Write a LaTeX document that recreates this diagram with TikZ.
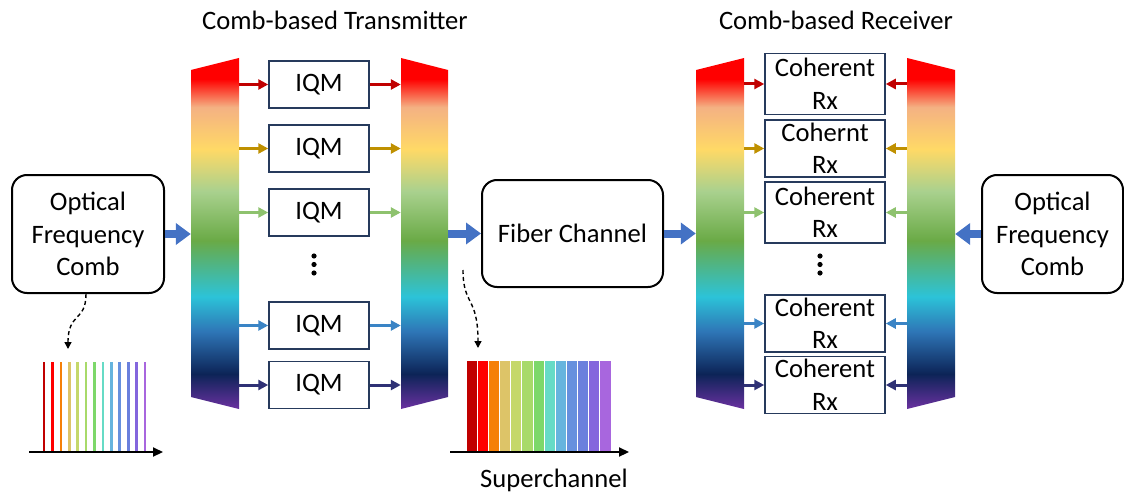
\documentclass[tikz,border=0pt]{standalone}
\usepackage{fontspec}
\setmainfont{Carlito}
\usetikzlibrary{arrows.meta}
\definecolor{cred}{HTML}{FF0000}
\definecolor{csalmon}{HTML}{F4B183}
\definecolor{cyellow}{HTML}{FFD966}
\definecolor{clgreen}{HTML}{A9D18E}
\definecolor{cgreen}{HTML}{6AAA46}
\definecolor{ccyan}{HTML}{2CC3D8}
\definecolor{cblue}{HTML}{2E75B6}
\definecolor{cnavy}{HTML}{0C2457}
\definecolor{cpurple}{HTML}{6A31A0}
\definecolor{aRed}{HTML}{C00000}
\definecolor{aGold}{HTML}{BF9000}
\definecolor{aLGreen}{HTML}{8EC26E}
\definecolor{aBlue}{HTML}{3A84C5}
\definecolor{aNavy}{HTML}{2F3175}
\definecolor{bigblue}{HTML}{4472C4}
\definecolor{boxline}{HTML}{263A5C}
\definecolor{s1}{HTML}{C00000}
\definecolor{s2}{HTML}{FF0000}
\definecolor{s3}{HTML}{F58008}
\definecolor{s4}{HTML}{DDC468}
\definecolor{s5}{HTML}{C5D86A}
\definecolor{s6}{HTML}{A8DA6A}
\definecolor{s7}{HTML}{7DD86A}
\definecolor{s8}{HTML}{66DBC6}
\definecolor{s9}{HTML}{66B4DE}
\definecolor{s10}{HTML}{6690DE}
\definecolor{s11}{HTML}{6B80DD}
\definecolor{s12}{HTML}{8466DD}
\definecolor{s13}{HTML}{A866DE}
\pgfdeclareverticalshading{rainbowfill}{100bp}{color(0bp)=(cpurple); color(25bp)=(cpurple); color(30bp)=(cnavy); color(36bp)=(cblue); color(41bp)=(ccyan); color(49bp)=(cgreen); color(56bp)=(clgreen); color(62bp)=(cyellow); color(68bp)=(csalmon); color(72bp)=(cred); color(100bp)=(cred)}
\tikzset{
  every node/.style={font=\fontsize{26.6}{32.5}\selectfont},
  roundbox/.style={draw=black, line width=2pt, rounded corners=15pt, align=center, inner sep=0pt},
  iqmbox/.style={draw=boxline, line width=1.5pt, minimum width=100pt, minimum height=47pt, inner sep=0pt},
  rxbox/.style={draw=boxline, line width=1.5pt, minimum width=120pt, minimum height=59pt, inner sep=0pt, align=center},
  trapnode/.style={draw=none, minimum width=48pt, minimum height=351pt, inner sep=0pt},
  sarrow/.style={draw=#1, line width=3pt, -{Triangle[length=10pt,width=10pt]}},
  barrow/.style={draw=bigblue, line width=8pt, -{Triangle[length=15pt,width=21pt]}},
  dasharrow/.style={draw=black, line width=1.4pt, dashed, dash pattern=on 4pt off 3pt, -{Triangle[length=7pt,width=7pt]}},
  axisarrow/.style={draw=black, line width=2.2pt, -{Triangle[length=10pt,width=9pt]}},
}
\begin{document}
\begin{tikzpicture}[x=1pt,y=-1pt]
\useasboundingbox (0,0) rectangle (1124,492);
% titles
\node (ttx) at (335,20) {Comb-based Transmitter};
\node (trx) at (836,20) {Comb-based Receiver};
% rainbow trapezoids
\path[shading=rainbowfill] (191,70) -- (239,58) -- (239,409) -- (191,397) -- cycle;
\path[shading=rainbowfill] (401,58) -- (448,70) -- (448,397) -- (401,409) -- cycle;
\path[shading=rainbowfill] (696,70) -- (744,58) -- (744,409) -- (696,397) -- cycle;
\path[shading=rainbowfill] (907,58) -- (955,70) -- (955,397) -- (907,409) -- cycle;
\node[trapnode] (dm1) at (215,233.5) {};
\node[trapnode, minimum width=47pt] (mx1) at (424.5,233.5) {};
\node[trapnode] (dm2) at (720,233.5) {};
\node[trapnode] (dm3) at (931,233.5) {};
% big boxes
\node[roundbox, minimum width=152pt, minimum height=118pt] (comb1) at (88,234) {Optical\\Frequency\\Comb};
\node[roundbox, minimum width=181pt, minimum height=107pt] (fiber) at (572.5,233.5) {Fiber Channel};
\node[roundbox, minimum width=141pt, minimum height=118pt] (comb2) at (1052.5,234) {Optical\\Frequency\\Comb};
% IQM boxes
\node[iqmbox] (iqm1) at (319,84.5) {IQM};
\node[iqmbox] (iqm2) at (319,148.5) {IQM};
\node[iqmbox] (iqm3) at (319,212.5) {IQM};
\node[iqmbox] (iqm4) at (319,325.5) {IQM};
\node[iqmbox] (iqm5) at (319,385) {IQM};
% Rx boxes
\node[rxbox, minimum height=61pt] (rx1) at (825,84) {Coherent\\Rx};
\node[rxbox, minimum height=57pt] (rx2) at (825,148.5) {Cohernt\\Rx};
\node[rxbox, minimum height=61pt] (rx3) at (825,212.5) {Coherent\\Rx};
\node[rxbox, minimum height=57pt] (rx4) at (825,323.5) {Coherent\\Rx};
\node[rxbox, minimum height=57pt] (rx5) at (825,385) {Coherent\\Rx};
% dots
\foreach \yy in {256,264.5,273}{\fill (314,\yy) circle (2.6pt); \fill (820,\yy) circle (2.6pt);}
% small arrows
\foreach \n/\c in {1/aRed,2/aGold,3/aLGreen,4/aBlue,5/aNavy}{
  \draw[sarrow=\c] (dm1.east |- iqm\n) -- (iqm\n);
  \draw[sarrow=\c] (iqm\n) -- (mx1.west |- iqm\n);
  \draw[sarrow=\c] (dm2.east |- rx\n) -- (rx\n);
  \draw[sarrow=\c] (dm3.west |- rx\n) -- (rx\n);
}
% big blue arrows
\draw[barrow] (comb1.east) -- (dm1.west |- comb1.east);
\draw[barrow] (mx1.east |- fiber) -- (fiber);
\draw[barrow] (fiber) -- (dm2.west |- fiber);
\draw[barrow] (comb2.west) -- (dm3.east |- comb2.west);
% comb spectrum
\coordinate (ax1s) at (29,452);
\coordinate (ax1e) at (163,452);
\foreach \i in {1,...,13}{
  \draw[draw=s\i, line width=2.6pt] ({44+(\i-1)*8.42},362) -- ({44+(\i-1)*8.42},452);
}
\draw[axisarrow] (ax1s) -- (ax1e);
\coordinate (sp1top) at (68,349);
\draw[dasharrow] (comb1.south -| 86,0) .. controls (86,322) and (68,312) .. (sp1top);
% superchannel
\foreach \i in {1,...,13}{
  \fill[fill=s\i, draw=white, line width=0.8pt] ({466+(\i-1)*11.15},360) rectangle ({466+\i*11.15},452);
}
\coordinate (ax2s) at (450,452);
\coordinate (ax2e) at (629,452);
\draw[axisarrow] (ax2s) -- (ax2e);
\coordinate (sc0) at (463,270);
\coordinate (sp2top) at (478,348);
\draw[dasharrow] (sc0) .. controls (463,306) and (478,296) .. (sp2top);
\node (sclabel) at (554,480) {Superchannel};
\end{tikzpicture}
\end{document}
